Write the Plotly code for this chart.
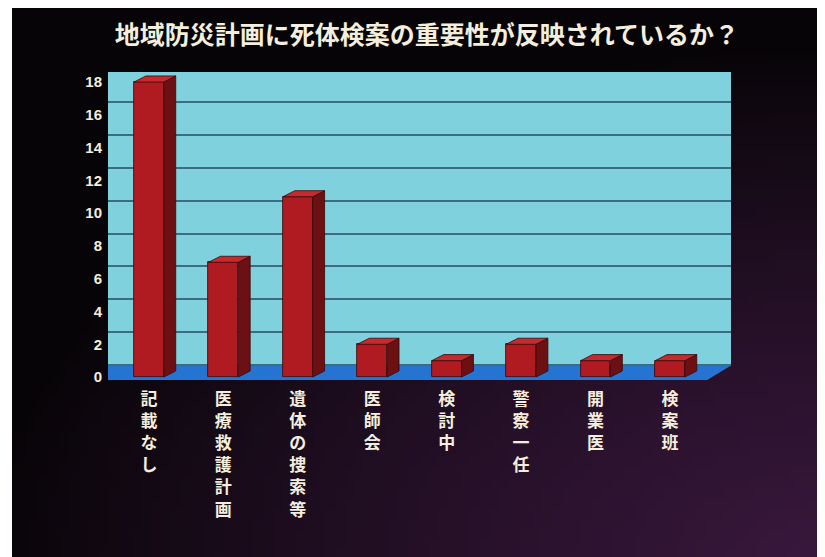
import base64
import struct
import zlib
import math
import plotly.graph_objects as go

# ---------------- data ----------------
categories = ["記載なし", "医療救護計画", "遺体の捜索等", "医師会", "検討中", "警察一任", "開業医", "検案班"]
counts = [18, 7, 11, 2, 1, 2, 1, 1]
y_ticks = [0, 2, 4, 6, 8, 10, 12, 14, 16, 18]
title_text = "地域防災計画に死体検案の重要性が反映されているか？"

# ---------------- style ----------------
W, H = 825, 557
OFF = 8                      # page body margin of the written html
ML, MT = 108 - OFF, 72 - OFF
MR = W - (731 - OFF)
MB = H - (380 - OFF)
X_RANGE = [-0.55, 7.82]
Y_RANGE = [-0.18, 18.61]
BAR_W = 0.40
DX, DY = 0.16, 0.37          # pseudo-3D depth of bars
GRID_OFF = 0.75              # back-wall offset of gridlines
FLOOR_TOP = 0.7

FRONT = "#b01b21"
SIDE = "#6c1014"
TOP = "#c42a2e"
EDGE = "#3a0808"
WALL = "#7fd2dd"
GRIDC = "#3b6d80"
FLOOR = "#2674d2"
TXT = "#f3eedd"
CJK = "Noto Sans CJK JP"


def gradient_png(w, h):
    rows = []
    for j in range(h):
        v = j / (h - 1)
        row = bytearray([0])
        for i in range(w):
            u = i / (w - 1)
            d = math.sqrt(((1 - u) / 1.05) ** 2 + ((1 - v) / 0.95) ** 2)
            t = max(0.0, 1 - d) ** 0.8
            r = int(6 + 52 * t)
            g = int(4 + 20 * t)
            b = int(6 + 56 * t)
            row += bytes([r, g, b])
        rows.append(bytes(row))
    raw = b"".join(rows)

    def chunk(tag, data):
        c = struct.pack(">I", len(data)) + tag + data
        return c + struct.pack(">I", zlib.crc32(tag + data) & 0xFFFFFFFF)

    png = b"\x89PNG\r\n\x1a\n"
    png += chunk(b"IHDR", struct.pack(">IIBBBBB", w, h, 8, 2, 0, 0, 0))
    png += chunk(b"IDAT", zlib.compress(raw, 9))
    png += chunk(b"IEND", b"")
    return "data:image/png;base64," + base64.b64encode(png).decode()


xs = list(range(len(categories)))

# side and top faces computed from the data values
side_x, side_y, top_x, top_y = [], [], [], []
for x, v in zip(xs, counts):
    r = x + BAR_W / 2
    l = x - BAR_W / 2
    side_x += [r, r + DX, r + DX, r, r, None]
    side_y += [0, DY, v + DY, v, 0, None]
    top_x += [l, r, r + DX, l + DX, l, None]
    top_y += [v, v, v + DY, v + DY, v, None]

fig = go.Figure()
fig.add_trace(go.Scatter(x=side_x, y=side_y, mode="lines", fill="toself",
                         fillcolor=SIDE, line=dict(color=EDGE, width=0.8),
                         hoverinfo="skip", showlegend=False))
fig.add_trace(go.Scatter(x=top_x, y=top_y, mode="lines", fill="toself",
                         fillcolor=TOP, line=dict(color=EDGE, width=0.8),
                         hoverinfo="skip", showlegend=False))
fig.add_trace(go.Bar(x=xs, y=counts, width=BAR_W,
                     marker=dict(color=FRONT, line=dict(color=EDGE, width=0.8)),
                     hoverinfo="skip", showlegend=False))

# paper coordinates (from reference-picture pixels)
pw = W - ML - MR
ph = H - MT - MB
def px_x(p):
    return (p - OFF - ML) / pw
def px_y(p):
    return (H - MB - (p - OFF)) / ph

fig.add_layout_image(dict(
    source=gradient_png(80, 54), xref="paper", yref="paper",
    x=px_x(12), y=px_y(8), sizex=px_x(834) - px_x(12), sizey=px_y(8) - px_y(566),
    xanchor="left", yanchor="top", sizing="stretch", layer="below"))

shapes = [
    dict(type="rect", xref="x", yref="y", x0=X_RANGE[0], x1=X_RANGE[1],
         y0=FLOOR_TOP, y1=Y_RANGE[1], fillcolor=WALL, line=dict(width=0), layer="below"),
    dict(type="path", xref="x", yref="y", layer="below", fillcolor=FLOOR, line=dict(width=0),
         path=f"M {X_RANGE[0]},{Y_RANGE[0]} L 7.5,{Y_RANGE[0]} L {X_RANGE[1]},{FLOOR_TOP} "
              f"L {X_RANGE[0]},{FLOOR_TOP} Z"),
]

fig.update_layout(
    width=W, height=H, autosize=False,
    margin=dict(l=ML, r=MR, t=MT, b=MB, autoexpand=False),
    paper_bgcolor="white", plot_bgcolor="rgba(0,0,0,0)",
    shapes=shapes,
    bargap=0,
    title=dict(text=title_text, x=px_x(427), xref="paper", xanchor="center",
               y=1 - (35 - OFF) / H, yref="container", yanchor="middle",
               font=dict(family=CJK, size=25, color=TXT, weight="bold")),
    xaxis=dict(range=X_RANGE, tickvals=xs, automargin=False,
               ticktext=["<br>".join(list(c)) for c in categories],
               showgrid=False, zeroline=False, showline=False, ticks="",
               ticklabelstandoff=7,
               tickfont=dict(family=CJK, size=17, color=TXT, weight="bold")),
    yaxis=dict(range=Y_RANGE, tickvals=y_ticks, showgrid=False, zeroline=False,
               showline=False, ticks="", ticklabelstandoff=5, automargin=False,
               tickfont=dict(family="Liberation Sans", size=15, color=TXT, weight="bold")),
    yaxis2=dict(range=[Y_RANGE[0] - GRID_OFF, Y_RANGE[1] - GRID_OFF], overlaying="y",
                tickvals=y_ticks, showticklabels=False, showgrid=True, automargin=False,
                gridcolor=GRIDC, gridwidth=1.5, zeroline=False, showline=False),
)
# an invisible trace that activates the gridline axis
fig.add_trace(go.Scatter(x=[None], y=[None], yaxis="y2", showlegend=False, hoverinfo="skip"))

fig.write_html("out.html")
